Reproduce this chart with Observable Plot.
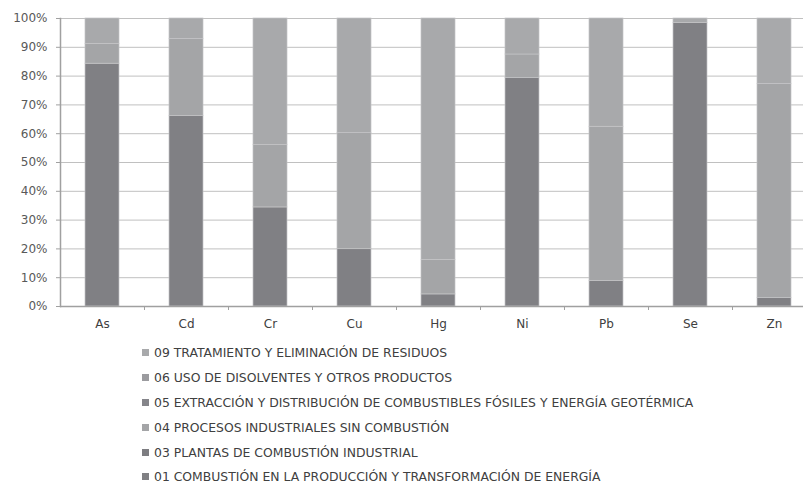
<!DOCTYPE html>
<html><head><meta charset="utf-8">
<script src="https://cdn.jsdelivr.net/npm/d3@7"></script>
<script src="https://cdn.jsdelivr.net/npm/@observablehq/plot@0.6"></script>
<style>
body{margin:0;background:#fff;font-family:"DejaVu Sans",Verdana,sans-serif;width:803px;overflow:hidden;}
#legend{padding-left:142px;padding-top:5px;}
.row{height:24.9px;display:flex;align-items:center;font-size:12.4px;color:#404040;white-space:nowrap;}
.sw{width:7px;height:7px;margin-right:5px;flex:none;}
</style></head>
<body>
<div id="chart"></div>
<div id="legend"></div>
<script>
const categories = ["As","Cd","Cr","Cu","Hg","Ni","Pb","Se","Zn"];
const series = [
  "01 COMBUSTIÓN EN LA PRODUCCIÓN Y TRANSFORMACIÓN DE ENERGÍA",
  "03 PLANTAS DE COMBUSTIÓN INDUSTRIAL",
  "04 PROCESOS INDUSTRIALES SIN COMBUSTIÓN",
  "05 EXTRACCIÓN Y DISTRIBUCIÓN DE COMBUSTIBLES FÓSILES Y ENERGÍA GEOTÉRMICA",
  "06 USO DE DISOLVENTES Y OTROS PRODUCTOS",
  "09 TRATAMIENTO Y ELIMINACIÓN DE RESIDUOS"
];
const colors = ["#808084","#7d7d81","#a4a5a7","#85858a","#9b9b9f","#a8a9ab"];
const s01 = [84.3, 66.1, 34.4, 19.9, 4.2, 79.3, 8.8, 98.4, 2.9];
const s03 = [0, 0, 0, 0, 0, 0, 0, 0, 0];
const s04 = [6.9, 26.8, 21.7, 40.3, 12.0, 8.2, 53.6, 0, 74.4];
const s05 = [0, 0, 0, 0, 0, 0, 0, 0, 0];
const s06 = [0, 0, 0, 0, 0, 0, 0, 0, 0];
const s09 = [8.8, 7.1, 43.9, 39.8, 83.8, 12.5, 37.6, 1.6, 22.7];
const yTicks = [0,10,20,30,40,50,60,70,80,90,100];

const seriesValues = [s01, s03, s04, s05, s06, s09];
const table = [];
series.forEach((s, i) => categories.forEach((c, j) => {
  if (seriesValues[i][j] > 0) table.push({series: s, cat: c, value: seriesValues[i][j]});
}));

const plot = Plot.plot({
  width: 803, height: 335,
  marginLeft: 60, marginRight: 0, marginTop: 18, marginBottom: 29,
  style: {fontFamily: "'DejaVu Sans', Verdana, sans-serif", fontSize: "12px", color: "#595959", background: "#fff", overflow: "visible"},
  x: {domain: categories, range: [60, 816], paddingInner: 0.6, paddingOuter: 0.3, label: null},
  y: {domain: [0, 100], label: null},
  color: {domain: series, range: colors},
  marks: [
    Plot.gridY(yTicks, {stroke: "#c0c0c0", strokeOpacity: 1, strokeWidth: 1}),
    Plot.barY(table, Plot.stackY({x: "cat", y: "value", fill: "series", stroke: "#c4c4c6", strokeWidth: 0.7})),
    Plot.ruleY([0], {stroke: "#a0a0a0", strokeWidth: 1.5}),
    Plot.frame({anchor: "left", stroke: "#a0a0a0", strokeWidth: 1.5}),
    Plot.axisY(yTicks, {tickFormat: d => d + "%", tickSize: 4, tickPadding: 9, stroke: "#a0a0a0", fill: "#595959", fontSize: 12}),
    Plot.axisX({tickSize: 4, dx: 42, tickFormat: () => "", stroke: "#a0a0a0"}),
    Plot.axisX({tickSize: 0, tickPadding: 13, fill: "#404040", fontSize: 12})
  ]
});
document.getElementById("chart").appendChild(plot);

const legend = document.getElementById("legend");
series.slice().reverse().forEach(s => {
  const i = series.indexOf(s);
  const row = document.createElement("div");
  row.className = "row";
  const sw = document.createElement("span");
  sw.className = "sw";
  sw.style.background = colors[i];
  const t = document.createElement("span");
  t.textContent = s;
  row.appendChild(sw); row.appendChild(t);
  legend.appendChild(row);
});
</script>
</body></html>
